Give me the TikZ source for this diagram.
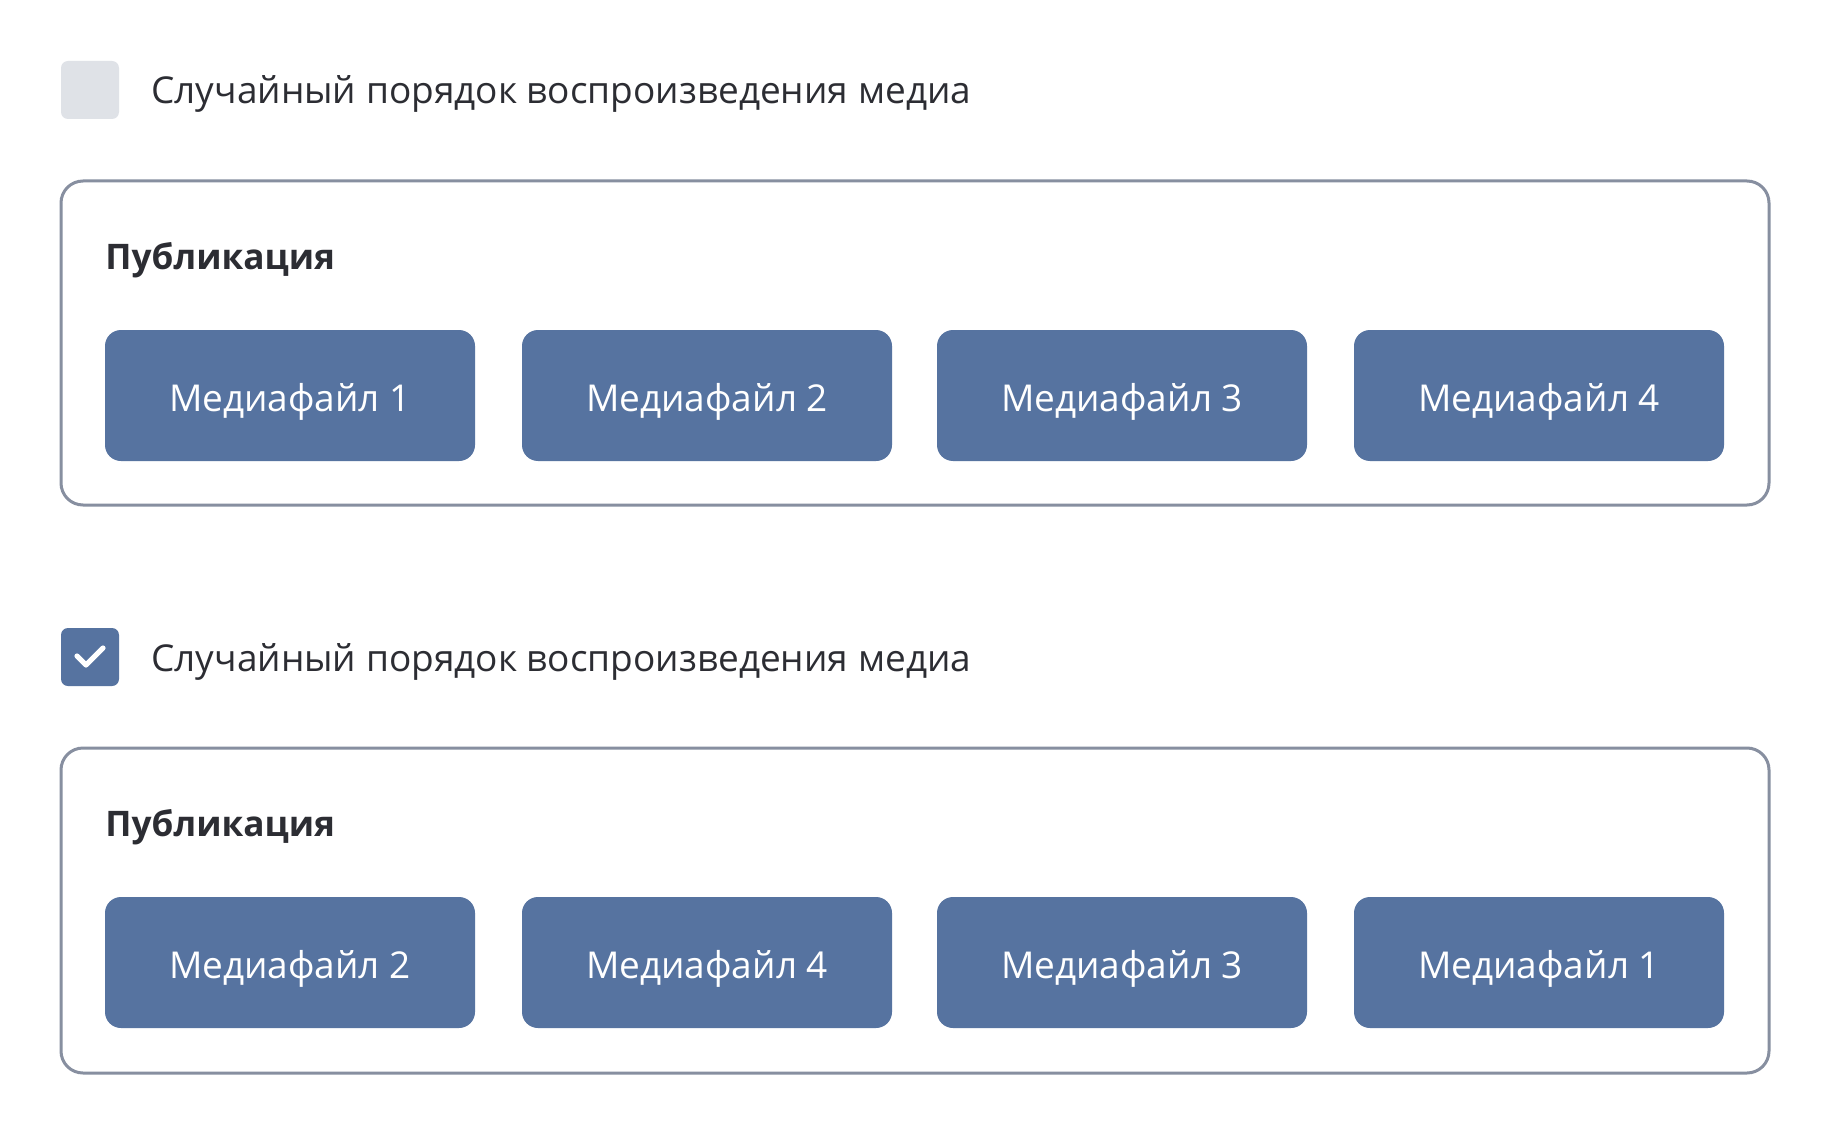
\documentclass[tikz,border=0pt]{standalone}
\usepackage{fontspec}
\setmainfont{Open Sans}
\definecolor{btnblue}{HTML}{5673A0}
\definecolor{boxgray}{HTML}{878FA0}
\definecolor{cbgray}{HTML}{DFE2E7}
\definecolor{txtdark}{HTML}{2C2D33}
\begin{document}
\begin{tikzpicture}[x=0.5pt,y=-0.5pt,
  mediabtn/.style={fill=btnblue, rounded corners=8pt, minimum width=185pt, minimum height=65.5pt, inner sep=0pt, text=white, text height=19pt, text depth=3.2pt, font=\fontsize{18.5}{22}\selectfont},
  pubbox/.style={draw=boxgray, line width=1.5pt, rounded corners=11pt},
  cblabel/.style={anchor=west, inner sep=0pt, text=txtdark, font=\fontsize{18.5}{22}\selectfont},
  pubtitle/.style={anchor=west, inner sep=0pt, text=txtdark, font=\bfseries\fontsize{17.6}{21}\selectfont},
  cbox/.style={rounded corners=3.5pt, minimum width=29pt, minimum height=29pt, inner sep=0pt}
]
\fill[white] (0,0) rectangle (1830,1134);
\useasboundingbox (0,0) rectangle (1830,1134);

% ---- top section ----
\node[cbox, fill=cbgray] (cb1) at (90,90) {};
\node[cblabel] (lbl1) at (151,93.5) {Случайный порядок воспроизведения медиа};
\draw[pubbox] (61,181) rectangle (1769,505);
\node[pubtitle] (pub1) at (105,260.5) {Публикация};
\node[mediabtn] (a1) at (290,395.5) {Медиафайл 1};
\node[mediabtn] (a2) at (707,395.5) {Медиафайл 2};
\node[mediabtn] (a3) at (1122,395.5) {Медиафайл 3};
\node[mediabtn] (a4) at (1539,395.5) {Медиафайл 4};

% ---- bottom section ----
\node[cbox, fill=btnblue] (cb2) at (90,657) {};
\draw[white, line width=2.6pt, line cap=round, line join=round]
  ([xshift=-6.5pt,yshift=0.5pt]cb2.center) -- ([xshift=-2pt,yshift=-4pt]cb2.center) -- ([xshift=6.5pt,yshift=4.5pt]cb2.center);
\node[cblabel] (lbl2) at (151,661.5) {Случайный порядок воспроизведения медиа};
\draw[pubbox] (61,748) rectangle (1769,1073);
\node[pubtitle] (pub2) at (105,827.5) {Публикация};
\node[mediabtn] (b1) at (290,962.5) {Медиафайл 2};
\node[mediabtn] (b2) at (707,962.5) {Медиафайл 4};
\node[mediabtn] (b3) at (1122,962.5) {Медиафайл 3};
\node[mediabtn] (b4) at (1539,962.5) {Медиафайл 1};
\end{tikzpicture}
\end{document}
